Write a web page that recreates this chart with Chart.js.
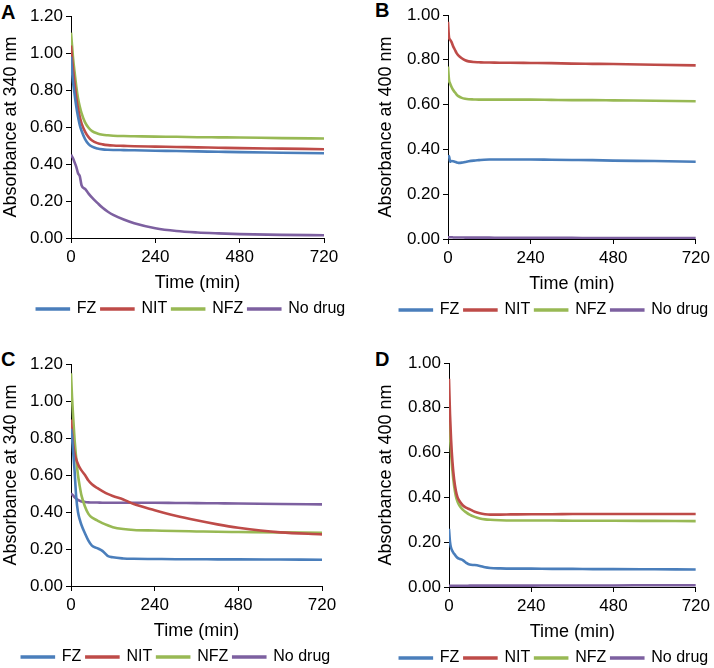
<!DOCTYPE html>
<html>
<head>
<meta charset="utf-8">
<script src="https://cdn.jsdelivr.net/npm/chart.js@4"></script>
<style>
  body { margin: 0; background: #fff; width: 714px; height: 668px; overflow: hidden; position: relative; }
  canvas { position: absolute; }
  .tag { position: absolute; font: bold 20px "Liberation Sans", Arial, sans-serif; line-height: 20px; color: #000; }
</style>
</head>
<body>
<div class="tag" style="left:1px;top:2px">A</div>
<div class="tag" style="left:375px;top:0px">B</div>
<div class="tag" style="left:1px;top:349px">C</div>
<div class="tag" style="left:375px;top:349px">D</div>
<canvas id="chartA" width="357" height="327" style="left:0;top:0"></canvas>
<canvas id="chartB" width="339" height="328" style="left:375px;top:0"></canvas>
<canvas id="chartC" width="357" height="327" style="left:0;top:348px"></canvas>
<canvas id="chartD" width="339" height="328" style="left:375px;top:348px"></canvas>
<script>
// sampling times (min), shared by every series
const minutes = [0, 3, 6, 10, 15, 20, 25, 30, 40, 50, 60, 75, 90, 105, 120, 150, 180, 240, 300, 360, 420, 480, 600, 720];
const seriesNames = ['FZ', 'NIT', 'NFZ', 'No drug'];
const xTicks = [0, 240, 480, 720];

// A - absorbance at 340 nm
const fzA     = [0.98, 0.90, 0.84, 0.78, 0.71, 0.655, 0.61, 0.58, 0.535, 0.508, 0.494, 0.484, 0.479, 0.477, 0.476, 0.475, 0.474, 0.472, 0.470, 0.468, 0.466, 0.464, 0.461, 0.458];
const nitA    = [1.04, 0.97, 0.91, 0.84, 0.76, 0.70, 0.655, 0.62, 0.575, 0.545, 0.527, 0.513, 0.506, 0.502, 0.500, 0.498, 0.496, 0.494, 0.492, 0.490, 0.488, 0.486, 0.483, 0.480];
const nfzA    = [1.11, 1.04, 0.97, 0.90, 0.82, 0.755, 0.71, 0.675, 0.625, 0.596, 0.578, 0.565, 0.558, 0.555, 0.553, 0.551, 0.550, 0.548, 0.547, 0.545, 0.544, 0.543, 0.540, 0.538];
const noDrugA = [0.45, 0.44, 0.43, 0.41, 0.385, 0.35, 0.335, 0.285, 0.265, 0.24, 0.218, 0.19, 0.163, 0.142, 0.125, 0.10, 0.08, 0.053, 0.038, 0.030, 0.025, 0.021, 0.017, 0.015];

// B - absorbance at 400 nm
const fzB     = [0.36, 0.37, 0.345, 0.348, 0.347, 0.345, 0.342, 0.340, 0.341, 0.344, 0.347, 0.350, 0.352, 0.354, 0.355, 0.355, 0.355, 0.355, 0.354, 0.353, 0.352, 0.350, 0.348, 0.345];
const nitB    = [0.97, 0.90, 0.89, 0.88, 0.86, 0.845, 0.83, 0.82, 0.807, 0.798, 0.793, 0.790, 0.789, 0.788, 0.788, 0.787, 0.787, 0.786, 0.785, 0.783, 0.782, 0.781, 0.778, 0.775];
const nfzB    = [0.77, 0.71, 0.695, 0.68, 0.665, 0.655, 0.645, 0.638, 0.630, 0.626, 0.624, 0.623, 0.622, 0.622, 0.622, 0.622, 0.622, 0.622, 0.621, 0.620, 0.620, 0.619, 0.617, 0.615];
const noDrugB = [0.008, 0.008, 0.008, 0.008, 0.007, 0.007, 0.007, 0.007, 0.007, 0.006, 0.006, 0.006, 0.006, 0.006, 0.006, 0.005, 0.005, 0.005, 0.005, 0.005, 0.004, 0.004, 0.004, 0.004];

// C - absorbance at 340 nm
const fzC     = [0.85, 0.80, 0.73, 0.63, 0.48, 0.40, 0.36, 0.33, 0.285, 0.245, 0.218, 0.205, 0.19, 0.163, 0.155, 0.149, 0.147, 0.146, 0.145, 0.145, 0.144, 0.144, 0.143, 0.142];
const nitC    = [0.90, 0.83, 0.77, 0.72, 0.685, 0.66, 0.64, 0.625, 0.60, 0.57, 0.55, 0.53, 0.513, 0.498, 0.487, 0.468, 0.443, 0.41, 0.38, 0.355, 0.333, 0.315, 0.29, 0.279];
const nfzC    = [1.15, 1.02, 0.92, 0.80, 0.69, 0.60, 0.54, 0.49, 0.43, 0.39, 0.37, 0.355, 0.34, 0.328, 0.318, 0.308, 0.303, 0.300, 0.297, 0.295, 0.293, 0.292, 0.290, 0.288];
const noDrugC = [0.50, 0.495, 0.49, 0.48, 0.472, 0.466, 0.461, 0.457, 0.454, 0.452, 0.451, 0.451, 0.450, 0.450, 0.450, 0.450, 0.450, 0.450, 0.449, 0.448, 0.447, 0.446, 0.443, 0.441];

// D - absorbance at 400 nm
const fzD     = [0.26, 0.20, 0.175, 0.16, 0.148, 0.138, 0.13, 0.126, 0.12, 0.108, 0.10, 0.098, 0.094, 0.088, 0.085, 0.083, 0.082, 0.082, 0.081, 0.081, 0.080, 0.080, 0.079, 0.078];
const nitD    = [0.93, 0.77, 0.66, 0.56, 0.48, 0.43, 0.40, 0.385, 0.365, 0.354, 0.347, 0.336, 0.329, 0.325, 0.323, 0.323, 0.324, 0.325, 0.325, 0.326, 0.326, 0.326, 0.326, 0.326];
const nfzD    = [0.77, 0.67, 0.60, 0.52, 0.45, 0.405, 0.38, 0.365, 0.345, 0.333, 0.323, 0.313, 0.306, 0.302, 0.300, 0.298, 0.297, 0.297, 0.297, 0.296, 0.296, 0.296, 0.295, 0.294];
const noDrugD = [0.005, 0.005, 0.005, 0.005, 0.005, 0.005, 0.005, 0.005, 0.005, 0.005, 0.006, 0.006, 0.006, 0.006, 0.006, 0.006, 0.006, 0.006, 0.007, 0.007, 0.007, 0.007, 0.008, 0.008];

const colors = ['#4a7ebb', '#be4b48', '#98b954', '#7d60a0'];
const fontFamily = '"Liberation Sans", Arial, sans-serif';

Chart.defaults.font.family = fontFamily;
Chart.defaults.color = '#000';

// nudge the legend sideways after layout (the original legends are not centred on the canvas)
const legendShift = {
    id: 'legendShift',
    afterLayout(chart, args, opts) {
        if (chart.legend && opts.dx) {
            chart.legend.left += opts.dx;
            chart.legend.right += opts.dx;
        }
    }
};

function makePanel(id, series, yMax, yTitle, pad, legendDx) {
    const datasets = series.map((vals, i) => ({
        label: seriesNames[i],
        data: vals.map((v, j) => ({ x: minutes[j], y: v })),
        borderColor: colors[i],
        backgroundColor: colors[i],
        borderWidth: 2.6,
        pointRadius: 0,
        cubicInterpolationMode: 'monotone',
        fill: false
    }));

    return new Chart(document.getElementById(id), {
        type: 'line',
        data: { datasets },
        plugins: [legendShift],
        options: {
            responsive: false,
            animation: false,
            layout: { padding: { top: pad.top, right: pad.right, left: 0, bottom: 0 } },
            plugins: {
                tooltip: { enabled: false },
                legendShift: { dx: legendDx },
                legend: {
                    position: 'bottom',
                    labels: {
                        boxWidth: 32,
                        boxHeight: 1,
                        padding: 5,
                        color: '#000',
                        font: { size: 16 }
                    }
                }
            },
            scales: {
                x: {
                    type: 'linear',
                    min: 0,
                    max: 720,
                    afterBuildTicks: s => { s.ticks = xTicks.map(v => ({ value: v })); },
                    afterFit: s => { s.height = 58; },
                    grid: { drawOnChartArea: false, tickLength: 5, color: '#000' },
                    border: { color: '#000', width: 1 },
                    ticks: { font: { size: 17 }, padding: 4, maxRotation: 0 },
                    title: { display: true, text: 'Time (min)', font: { size: 18 }, padding: { top: 0, bottom: 2 } }
                },
                y: {
                    min: 0,
                    max: yMax,
                    afterFit: s => { s.width = pad.axis; },
                    grid: { drawOnChartArea: false, tickLength: 5, color: '#000' },
                    border: { color: '#000', width: 1 },
                    ticks: { stepSize: 0.2, font: { size: 17 }, padding: 3, callback: v => v.toFixed(2) },
                    title: { display: true, text: yTitle, font: { size: 18 }, padding: { top: 0, bottom: 0 } }
                }
            }
        }
    });
}

makePanel('chartA', [fzA, nitA, nfzA, noDrugA], 1.2, 'Absorbance at 340 nm', { top: 16, right: 33, axis: 71 }, 29);
makePanel('chartB', [fzB, nitB, nfzB, noDrugB], 1.0, 'Absorbance at 400 nm', { top: 15, right: 13, axis: 73 }, 16);
makePanel('chartC', [fzC, nitC, nfzC, noDrugC], 1.2, 'Absorbance at 340 nm', { top: 16, right: 35, axis: 71 }, 15);
makePanel('chartD', [fzD, nitD, nfzD, noDrugD], 1.0, 'Absorbance at 400 nm', { top: 15, right: 13, axis: 74 }, 16);
</script>
</body>
</html>
